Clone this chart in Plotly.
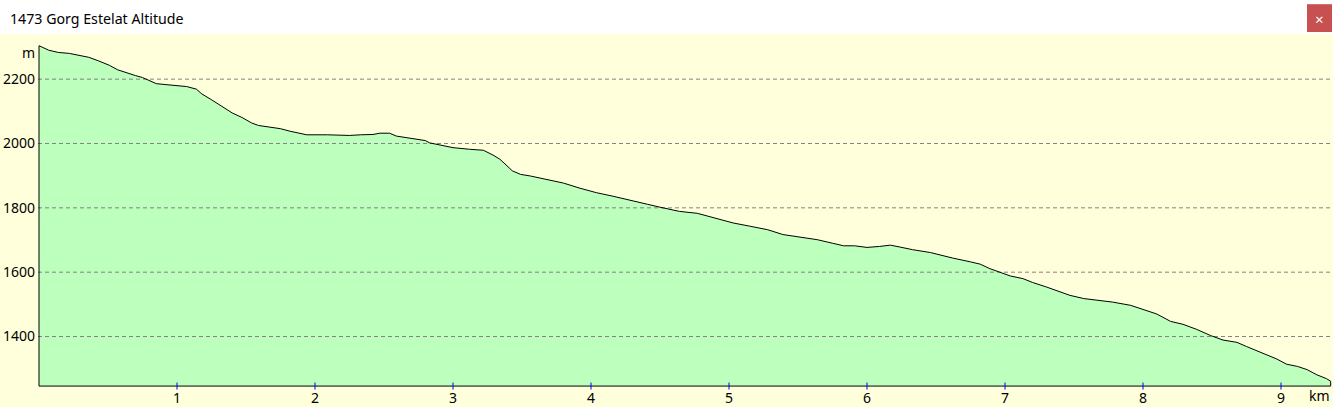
import plotly.graph_objects as go

# ---------------- data ----------------
DIST_KM = [0.00, 0.07, 0.14, 0.22, 0.29, 0.36, 0.43, 0.51, 0.57, 0.63, 0.70, 0.75, 0.80, 0.85,
           0.92, 0.99, 1.07, 1.14, 1.18, 1.25, 1.33, 1.40, 1.47, 1.54, 1.59, 1.67, 1.75, 1.82,
           1.89, 1.94, 2.09, 2.18, 2.25, 2.33, 2.42, 2.47, 2.54, 2.59, 2.67, 2.74, 2.80, 2.83,
           2.91, 3.00, 3.12, 3.22, 3.29, 3.34, 3.43, 3.49, 3.56, 3.68, 3.80, 3.92, 4.04, 4.16,
           4.28, 4.41, 4.50, 4.64, 4.77, 4.91, 5.03, 5.15, 5.28, 5.39, 5.51, 5.64, 5.75, 5.83,
           5.91, 6.00, 6.09, 6.17, 6.24, 6.33, 6.46, 6.51, 6.62, 6.75, 6.82, 6.89, 6.96, 7.04,
           7.13, 7.20, 7.30, 7.38, 7.47, 7.57, 7.69, 7.78, 7.91, 8.00, 8.10, 8.20, 8.29, 8.39,
           8.49, 8.58, 8.68, 8.75, 8.83, 8.90, 8.97, 9.04, 9.12, 9.19, 9.26, 9.33, 9.36]
ALT_M = [2304, 2290, 2283, 2280, 2274, 2268, 2257, 2243, 2229, 2220, 2211, 2205, 2196, 2186,
         2183, 2180, 2177, 2169, 2154, 2136, 2115, 2095, 2081, 2064, 2056, 2052, 2046, 2038,
         2032, 2027, 2027, 2026, 2025, 2027, 2028, 2032, 2032, 2023, 2018, 2013, 2009, 2002,
         1994, 1987, 1982, 1979, 1964, 1951, 1915, 1904, 1899, 1887, 1877, 1861, 1847, 1836,
         1823, 1811, 1802, 1789, 1783, 1768, 1753, 1743, 1732, 1717, 1709, 1701, 1690, 1682,
         1682, 1677, 1680, 1684, 1678, 1670, 1661, 1655, 1644, 1632, 1625, 1611, 1601, 1588,
         1580, 1568, 1554, 1542, 1528, 1518, 1512, 1507, 1497, 1485, 1470, 1447, 1438, 1422,
         1403, 1389, 1382, 1369, 1354, 1341, 1330, 1314, 1307, 1297, 1281, 1269, 1261]
BASE_ALT = 1246

X_TICKS = [1, 2, 3, 4, 5, 6, 7, 8, 9]
X_TICK_LABELS = ["1", "2", "3", "4", "5", "6", "7", "8", "9"]
Y_TICKS = [1400, 1600, 1800, 2000, 2200]
Y_TICK_LABELS = ["1400", "1600", "1800", "2000", "2200"]
TITLE = "1473 Gorg Estelat Altitude"
X_UNIT = "km"
Y_UNIT = "m"

# ---------------- layout constants ----------------
W, H = 1333, 407
ML, MR, MT, MB = 38, 0, 37, 17
PW, PH = W - ML - MR, H - MT - MB
X_RANGE = [-0.00725, -0.00725 + PW / 138.0]
Y_RANGE = [1240, 2331]

FONT = "Noto Sans"
BG = "#FFFFDC"
FILL = "#BDFFBD"
GRID = "#858085"


def px(x):
    return (x - ML) / PW


def py(y):
    return (H - MB - y) / PH


poly_x = [DIST_KM[0]] + DIST_KM + [DIST_KM[-1], DIST_KM[0]]
poly_y = [BASE_ALT] + ALT_M + [BASE_ALT, BASE_ALT]

fig = go.Figure()
fig.add_trace(go.Scatter(x=poly_x, y=poly_y, mode="lines", fill="toself",
                         fillcolor=FILL, line=dict(width=0), hoverinfo="skip",
                         showlegend=False))
for t in Y_TICKS:
    fig.add_trace(go.Scatter(x=X_RANGE, y=[t, t], mode="lines",
                             line=dict(color=GRID, width=1, dash="4px,3px"),
                             hoverinfo="skip", showlegend=False))
fig.add_trace(go.Scatter(x=poly_x, y=poly_y, mode="lines",
                         line=dict(color="black", width=1), hoverinfo="skip",
                         showlegend=False))
fig.add_trace(go.Scatter(x=X_TICKS, y=[BASE_ALT] * len(X_TICKS), mode="markers",
                         marker=dict(symbol="line-ns", size=5,
                                     line=dict(color="#0000FF", width=1)),
                         hoverinfo="skip", showlegend=False, cliponaxis=False))

fig.update_layout(
    width=W, height=H,
    margin=dict(l=ML, r=MR, t=MT, b=MB, pad=0),
    paper_bgcolor=BG, plot_bgcolor=BG,
    font=dict(family=FONT, size=14, color="black"),
    hovermode=False,
    title=dict(text=TITLE, xref="container", yref="container",
               x=10 / W, y=1 - 19 / H, xanchor="left", yanchor="middle",
               font=dict(family=FONT, size=14.2, color="black")),
    xaxis=dict(range=X_RANGE, tickvals=X_TICKS, ticktext=X_TICK_LABELS,
               showgrid=False, zeroline=False, showline=False, ticks="",
               tickfont=dict(size=14, color="black"), fixedrange=True),
    yaxis=dict(range=Y_RANGE, tickvals=Y_TICKS, ticktext=Y_TICK_LABELS,
               showgrid=False, zeroline=False, showline=False, ticks="",
               ticklabelstandoff=2,
               tickfont=dict(size=14, color="black"), fixedrange=True),
    shapes=[
        dict(type="rect", xref="paper", yref="paper", x0=px(0), x1=px(W),
             y0=py(34), y1=py(0), fillcolor="white", line=dict(width=0), layer="below"),
        dict(type="rect", xref="paper", yref="paper", x0=px(1307), x1=px(1332),
             y0=py(32), y1=py(4), fillcolor="#C75050", line=dict(width=0), layer="above"),
    ],
    annotations=[
        dict(text="×", xref="paper", yref="paper", x=px(1319.5), y=py(18.5),
             xanchor="center", yanchor="middle", showarrow=False,
             font=dict(family=FONT, size=15, color="white")),
        dict(text=Y_UNIT, xref="paper", yref="paper", x=px(36.5), y=py(52.5),
             xanchor="right", yanchor="middle", showarrow=False,
             font=dict(family=FONT, size=14, color="black")),
        dict(text=X_UNIT, xref="paper", yref="paper", x=px(1332), y=py(398),
             xanchor="right", yanchor="middle", showarrow=False,
             font=dict(family=FONT, size=14, color="black")),
    ],
)

fig.write_html(
    "out.html",
    config={"displayModeBar": False, "staticPlot": True},
    post_script="document.body.style.margin='0';document.body.style.overflow='hidden';",
)
